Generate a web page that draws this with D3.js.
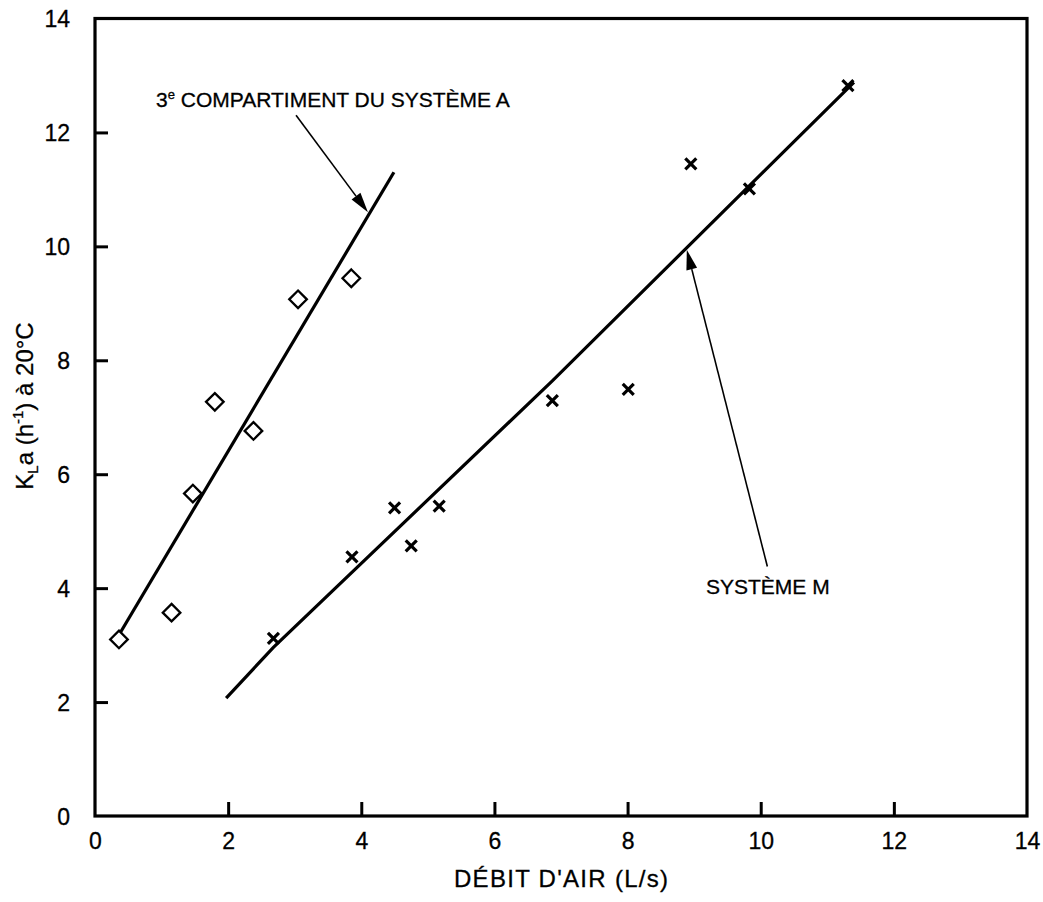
<!DOCTYPE html>
<html>
<head>
<meta charset="utf-8">
<script src="https://cdn.jsdelivr.net/npm/d3@7/dist/d3.min.js"></script>
<style>
  html, body { margin: 0; padding: 0; background: #fff; }
  svg { display: block; }
  text { font-family: "Liberation Sans", Arial, Helvetica, sans-serif; fill: #000; stroke: #000; stroke-width: 0.3; }
</style>
</head>
<body>
<svg id="chart" width="1043" height="902"></svg>
<script>
// Débit d'air (L/s) vs KLa (h-1) à 20°C
const xTicks = [0, 2, 4, 6, 8, 10, 12, 14];
const yTicks = [0, 2, 4, 6, 8, 10, 12, 14];

// 3e compartiment du système A (diamonds)
const sysA_x = [0.36, 1.15, 1.47, 1.80, 2.38, 3.05, 3.85];
const sysA_y = [3.10, 3.57, 5.66, 7.27, 6.76, 9.07, 9.44];

// Système M (crosses)
const sysM_x = [2.68, 3.86, 4.50, 4.75, 5.17, 6.87, 8.01, 8.95, 9.83, 11.31];
const sysM_y = [3.12, 4.55, 5.41, 4.74, 5.44, 7.29, 7.49, 11.45, 11.01, 12.82];

// Fitted lines
const fitA_x = [0.33, 4.49];
const fitA_y = [3.12, 11.30];
const fitM_x = [1.97, 2.68, 6.87, 11.40];
const fitM_y = [2.07, 2.96, 7.64, 12.88];

// Annotations: arrow start (data), arrow tip (data)
const annoA = { from: [3.02, 12.30], to: [4.10, 10.60] };
const annoM = { from: [10.10, 4.38], to: [8.89, 9.94] };

const svg = d3.select("#chart");
const plotL = 95, plotR = 1027, plotT = 18.5, plotB = 816;

const x = d3.scaleLinear().domain([0, 14]).range([plotL, plotR]);
const y = d3.scaleLinear().domain([0, 14]).range([plotB, plotT]);

// Frame
svg.append("rect")
  .attr("x", plotL).attr("y", plotT)
  .attr("width", plotR - plotL).attr("height", plotB - plotT)
  .attr("fill", "none").attr("stroke", "#000").attr("stroke-width", 3.2);

// Axes with inward ticks
const xAxis = d3.axisBottom(x).tickValues(xTicks).tickSizeInner(-14).tickSizeOuter(0).tickPadding(0)
  .tickFormat(d3.format("d"));
const gx = svg.append("g").attr("transform", `translate(0,${plotB})`).call(xAxis);
gx.select(".domain").remove();
gx.selectAll(".tick line").attr("stroke", "#000").attr("stroke-width", 3)
  .attr("display", d => (d === 0 || d === 14) ? "none" : null);
gx.selectAll(".tick text").attr("font-size", 23).attr("y", 33).attr("dy", 0)
  .style("font-family", "Liberation Sans, Arial, sans-serif");

const yAxis = d3.axisLeft(y).tickValues(yTicks).tickSizeInner(-13).tickSizeOuter(0).tickPadding(0)
  .tickFormat(d3.format("d"));
const gy = svg.append("g").attr("transform", `translate(${plotL},0)`).call(yAxis);
gy.select(".domain").remove();
gy.selectAll(".tick line").attr("stroke", "#000").attr("stroke-width", 3)
  .attr("display", d => (d === 0 || d === 14) ? "none" : null);
gy.selectAll(".tick text").attr("font-size", 23).attr("x", -25).attr("dy", "0.36em")
  .style("font-family", "Liberation Sans, Arial, sans-serif");

// Axis titles
svg.append("text")
  .attr("x", (plotL + plotR) / 2).attr("y", 887)
  .attr("text-anchor", "middle").attr("font-size", 24)
  .attr("textLength", 214).attr("lengthAdjust", "spacing")
  .text("DÉBIT D'AIR (L/s)");

const yl = svg.append("text")
  .attr("transform", "translate(33,406) rotate(-90)")
  .attr("text-anchor", "middle").attr("font-size", 24);
yl.append("tspan").text("K");
yl.append("tspan").attr("font-size", 15).attr("dy", 5).text("L");
yl.append("tspan").attr("dy", -5).text("a (h");
yl.append("tspan").attr("font-size", 15).attr("dy", -10).text("-1");
yl.append("tspan").attr("dy", 10).text(") à 20°C");

// Fit lines
const line = d3.line().x(d => x(d[0])).y(d => y(d[1]));
svg.append("path")
  .datum(fitA_x.map((v, i) => [v, fitA_y[i]]))
  .attr("d", line).attr("fill", "none").attr("stroke", "#000").attr("stroke-width", 3.2);
svg.append("path")
  .datum(fitM_x.map((v, i) => [v, fitM_y[i]]))
  .attr("d", line).attr("fill", "none").attr("stroke", "#000").attr("stroke-width", 3.2);

// Diamonds
const dsz = 8.8;
svg.append("g").selectAll("path")
  .data(sysA_x.map((v, i) => [v, sysA_y[i]]))
  .join("path")
  .attr("d", d => {
    const cx = x(d[0]), cy = y(d[1]);
    return `M${cx},${cy - dsz}L${cx + dsz},${cy}L${cx},${cy + dsz}L${cx - dsz},${cy}Z`;
  })
  .attr("fill", "#fff").attr("stroke", "#000").attr("stroke-width", 2.3);

// Crosses
const csz = 5.5;
svg.append("g").selectAll("path")
  .data(sysM_x.map((v, i) => [v, sysM_y[i]]))
  .join("path")
  .attr("d", d => {
    const cx = x(d[0]), cy = y(d[1]);
    return `M${cx - csz},${cy - csz}L${cx + csz},${cy + csz}M${cx + csz},${cy - csz}L${cx - csz},${cy + csz}`;
  })
  .attr("fill", "none").attr("stroke", "#000").attr("stroke-width", 3.2);

// Arrows
function arrow(a) {
  const x1 = x(a.from[0]), y1 = y(a.from[1]), x2 = x(a.to[0]), y2 = y(a.to[1]);
  const ang = Math.atan2(y2 - y1, x2 - x1);
  const hl = 20, hw = 5.5;
  const bx = x2 - hl * Math.cos(ang), by = y2 - hl * Math.sin(ang);
  svg.append("line")
    .attr("x1", x1).attr("y1", y1).attr("x2", bx).attr("y2", by)
    .attr("stroke", "#000").attr("stroke-width", 1.6);
  const px = -Math.sin(ang) * hw, py = Math.cos(ang) * hw;
  svg.append("path")
    .attr("d", `M${x2},${y2}L${bx + px},${by + py}L${bx - px},${by - py}Z`)
    .attr("fill", "#000");
}
arrow(annoA);
arrow(annoM);

// Annotation labels
const ta = svg.append("text").attr("x", 156).attr("y", 107).attr("font-size", 21);
ta.append("tspan").text("3");
ta.append("tspan").attr("font-size", 13).attr("dy", -8).text("e");
ta.append("tspan").attr("dy", 8).text(" COMPARTIMENT DU SYSTÈME A");

svg.append("text").attr("x", 706).attr("y", 594).attr("font-size", 21).text("SYSTÈME M");
</script>
</body>
</html>
